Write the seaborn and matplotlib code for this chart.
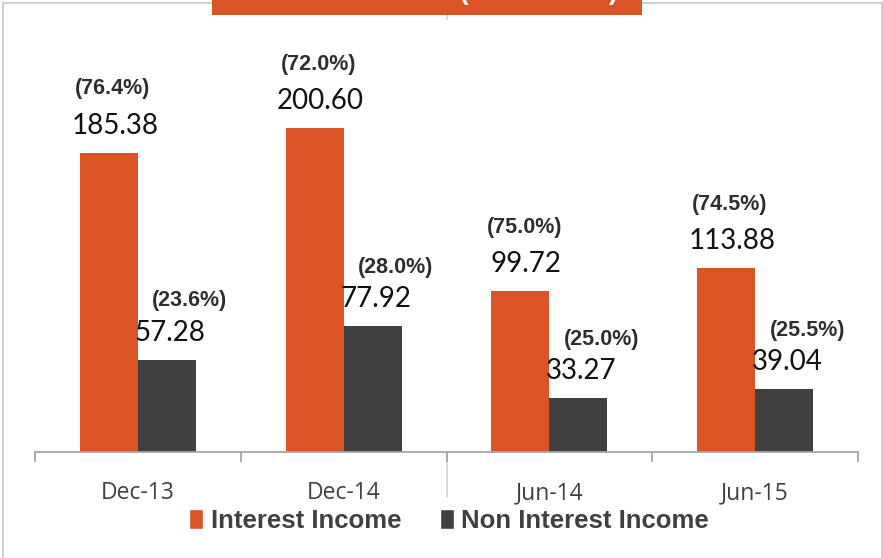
import matplotlib
matplotlib.use("Agg")
import matplotlib.pyplot as plt
import seaborn as sns
import pandas as pd
from matplotlib.patches import Rectangle
from matplotlib.lines import Line2D

periods = ["Dec-13", "Dec-14", "Jun-14", "Jun-15"]
series_names = ["Interest Income", "Non Interest Income"]
interest_income = [185.38, 200.60, 99.72, 113.88]
non_interest_income = [57.28, 77.92, 33.27, 39.04]
pct_interest = [76.4, 72.0, 75.0, 74.5]
pct_non_interest = [23.6, 28.0, 25.0, 25.5]
title_text = "Revenue Mix (INR Billion)"

ORANGE = "#DB5426"
DARK = "#404040"

df = pd.DataFrame({
    "period": periods * 2,
    "series": [series_names[0]] * 4 + [series_names[1]] * 4,
    "value": interest_income + non_interest_income,
})

sns.set_theme(style="white")
plt.rcParams["font.family"] = ["Liberation Sans", "DejaVu Sans"]

W, H = 883, 558
fig = plt.figure(figsize=(W / 100, H / 100), dpi=100)
ax = fig.add_axes([35 / W, 1 - 452 / H, 823 / W, 432 / H])

sns.barplot(data=df, x="period", y="value", hue="series", order=periods,
            hue_order=series_names, palette=[ORANGE, DARK], width=0.564,
            gap=0, saturation=1, ax=ax, legend=True)
for c in ax.containers:
    for p in c:
        p.set_edgecolor("none")

ax.set_xlim(-0.5, 3.5)
ax.set_ylim(0, 267.8)
ax.set_xlabel("")
ax.set_ylabel("")
ax.set_yticks([])
for s in ["top", "right", "left"]:
    ax.spines[s].set_visible(False)
ax.spines["bottom"].set_color("#A6A6A6")
ax.spines["bottom"].set_linewidth(1.3)
ax.set_xticks([-0.5, 0.5, 1.5, 2.5, 3.5], minor=True)
ax.tick_params(axis="x", which="minor", length=7, width=1.3, color="#A6A6A6",
               direction="out", bottom=True)
ax.tick_params(axis="x", which="major", length=0, pad=21, labelsize=16.5,
               labelcolor="#404040")
for t in ax.get_xticklabels():
    t.set_family(["Open Sans", "DejaVu Sans"])

# labels
pcts = [pct_interest, pct_non_interest]
val_dx = [6, 3]
pct_dx = [4, 23]
pct_dy = [64, 59]
for i, cont in enumerate(ax.containers):
    for j, p in enumerate(cont):
        xc = p.get_x() + p.get_width() / 2
        h = p.get_height()
        ax.annotate(f"{h:.2f}", (xc, h), xytext=(val_dx[i], 27),
                    textcoords="offset pixels", ha="center", va="center",
                    fontsize=20, family=["Lato", "DejaVu Sans"], color="#111111",
                    annotation_clip=False)
        ax.annotate(f"({pcts[i][j]:.1f}%)", (xc, h), xytext=(pct_dx[i], pct_dy[i]),
                    textcoords="offset pixels", ha="center", va="center",
                    fontsize=15.5, fontweight="bold", color="#2E2E2E",
                    annotation_clip=False)

leg = ax.legend(ncol=2, frameon=False, loc="center",
                bbox_to_anchor=(449 / W, 1 - 521 / H), bbox_transform=fig.transFigure,
                handlelength=0.55, handleheight=0.8, handletextpad=0.3,
                columnspacing=1.5, borderpad=0, title=None,
                prop={"family": ["Liberation Sans Narrow", "Liberation Sans", "DejaVu Sans"],
                      "weight": "bold", "size": 18.5})
for t in leg.get_texts():
    t.set_color("#404040")

# decorations: frame, separator, banner
fig.add_artist(Rectangle((3 / W, -0.02), 879 / W, 1.02 - 3.5 / H, transform=fig.transFigure,
                         fill=False, edgecolor="#D0D0D0", linewidth=1.5, zorder=0))
fig.add_artist(Line2D([447 / W, 447 / W], [1 - 15 / H, 1 - 497 / H],
                      transform=fig.transFigure, color="#D6D6D6", linewidth=1.3, zorder=0))
fig.add_artist(Rectangle((212 / W, 1 - 15 / H), 430 / W, 15 / H + 0.01,
                         transform=fig.transFigure, facecolor=ORANGE, edgecolor="none",
                         zorder=5))
fig.text(282 / W, 1 + 1 / H, title_text, color="white", fontsize=20, fontweight="bold",
         ha="left", va="baseline", zorder=6)

fig.savefig("out.png", dpi=100)
